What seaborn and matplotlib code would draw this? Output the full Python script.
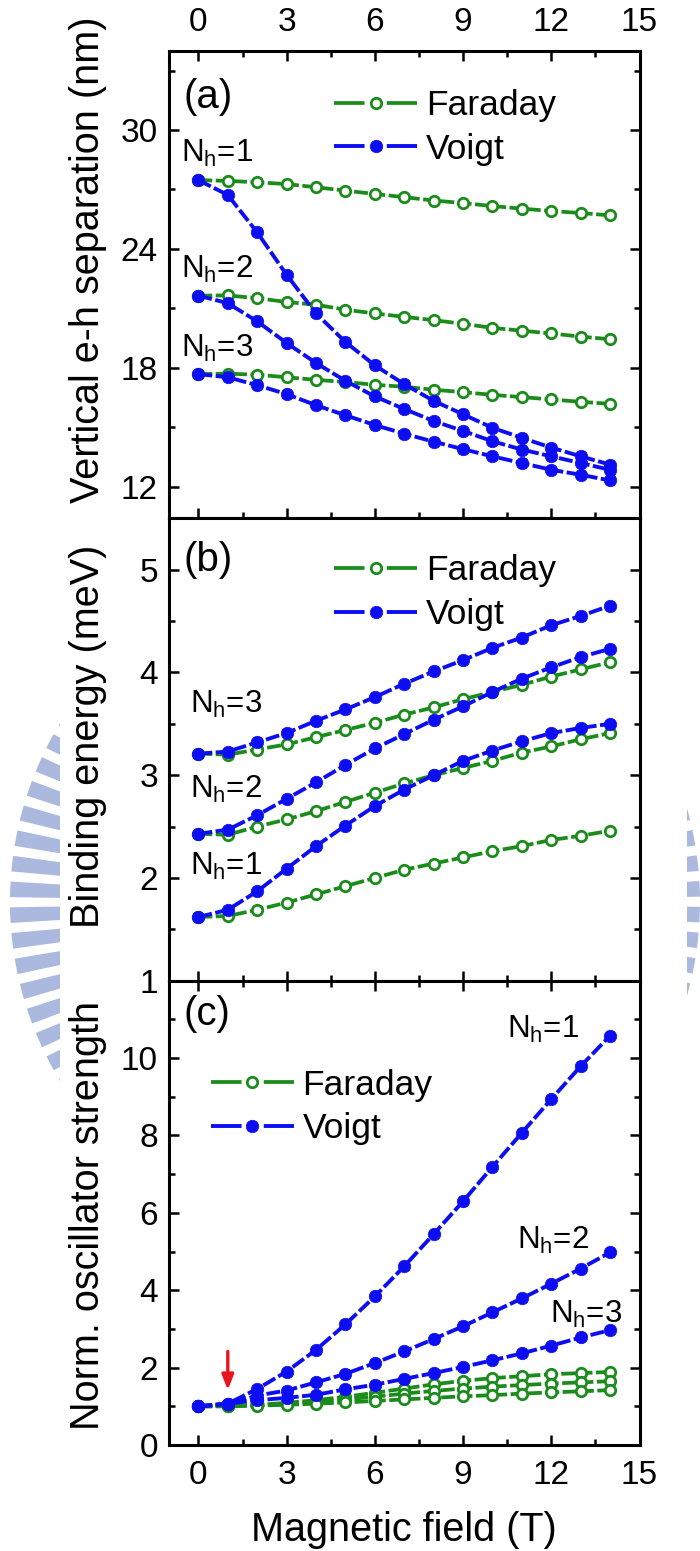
import numpy as np
import matplotlib
matplotlib.use("Agg")
import matplotlib.pyplot as plt
import seaborn as sns
from matplotlib import font_manager
from matplotlib.patches import Wedge, Rectangle
from matplotlib.transforms import Affine2D
from matplotlib.ticker import MultipleLocator

# ---------------------------------------------------------------- data
field = list(range(15))  # magnetic field (T)

# (a) vertical electron-hole separation (nm)
sep_faraday_n1 = [27.47, 27.43, 27.36, 27.27, 27.11, 26.94, 26.77, 26.61, 26.44, 26.31, 26.16, 26.03, 25.91, 25.81, 25.69]
sep_faraday_n2 = [21.64, 21.65, 21.51, 21.32, 21.18, 20.93, 20.74, 20.57, 20.40, 20.22, 20.01, 19.87, 19.73, 19.57, 19.44]
sep_faraday_n3 = [17.68, 17.70, 17.65, 17.52, 17.39, 17.28, 17.14, 17.04, 16.89, 16.77, 16.63, 16.52, 16.40, 16.28, 16.18]
sep_voigt_n1 = [27.47, 26.72, 24.83, 22.69, 20.74, 19.30, 18.12, 17.17, 16.33, 15.65, 14.97, 14.46, 13.97, 13.53, 13.11]
sep_voigt_n2 = [21.64, 21.26, 20.34, 19.25, 18.24, 17.34, 16.55, 15.92, 15.31, 14.81, 14.29, 13.87, 13.53, 13.19, 12.85]
sep_voigt_n3 = [17.68, 17.52, 17.12, 16.67, 16.11, 15.60, 15.11, 14.67, 14.27, 13.89, 13.53, 13.19, 12.85, 12.60, 12.31]

# (b) binding energy (meV)
eb_faraday_n1 = [1.62, 1.63, 1.69, 1.76, 1.84, 1.92, 2.00, 2.08, 2.14, 2.20, 2.26, 2.31, 2.37, 2.41, 2.46]
eb_faraday_n2 = [2.43, 2.42, 2.50, 2.57, 2.65, 2.74, 2.83, 2.92, 3.00, 3.07, 3.14, 3.22, 3.28, 3.35, 3.41]
eb_faraday_n3 = [3.21, 3.20, 3.25, 3.30, 3.37, 3.44, 3.51, 3.59, 3.66, 3.74, 3.81, 3.88, 3.96, 4.03, 4.10]
eb_voigt_n1 = [1.62, 1.69, 1.87, 2.09, 2.31, 2.51, 2.70, 2.86, 3.00, 3.14, 3.24, 3.33, 3.41, 3.46, 3.50]
eb_voigt_n2 = [2.43, 2.47, 2.61, 2.77, 2.93, 3.10, 3.26, 3.40, 3.54, 3.67, 3.81, 3.94, 4.05, 4.15, 4.23]
eb_voigt_n3 = [3.21, 3.23, 3.32, 3.41, 3.53, 3.64, 3.76, 3.89, 4.01, 4.12, 4.24, 4.34, 4.46, 4.55, 4.65]

# (c) normalized oscillator strength
osc_faraday_n1 = [1.00, 1.01, 1.04, 1.09, 1.16, 1.25, 1.35, 1.46, 1.57, 1.66, 1.73, 1.78, 1.83, 1.86, 1.89]
osc_faraday_n2 = [1.00, 1.01, 1.03, 1.07, 1.12, 1.18, 1.25, 1.33, 1.40, 1.46, 1.51, 1.55, 1.59, 1.62, 1.65]
osc_faraday_n3 = [1.00, 1.00, 1.02, 1.04, 1.07, 1.10, 1.14, 1.18, 1.22, 1.26, 1.29, 1.33, 1.36, 1.39, 1.42]
osc_voigt_n1 = [1.00, 1.07, 1.45, 1.90, 2.46, 3.12, 3.84, 4.62, 5.45, 6.30, 7.19, 8.07, 8.94, 9.79, 10.58]
osc_voigt_n2 = [1.00, 1.07, 1.28, 1.41, 1.62, 1.84, 2.12, 2.42, 2.74, 3.07, 3.43, 3.79, 4.17, 4.56, 4.98]
osc_voigt_n3 = [1.00, 1.07, 1.16, 1.22, 1.30, 1.44, 1.56, 1.71, 1.86, 2.02, 2.19, 2.37, 2.57, 2.78, 2.97]

x_ticks = [0, 3, 6, 9, 12, 15]
sep_ticks = [12, 18, 24, 30]
eb_ticks = [1, 2, 3, 4, 5]
osc_ticks = [0, 2, 4, 6, 8, 10]
mode_names = ["Faraday", "Voigt"]

# ---------------------------------------------------------------- style
GREEN = "#1b8c1b"
BLUE = "#0d0df2"
sns.set_style("ticks", {"axes.edgecolor": "black", "xtick.color": "black",
                        "ytick.color": "black", "text.color": "black",
                        "axes.labelcolor": "black"})
names = {f.name for f in font_manager.fontManager.ttflist}
main_font = "Liberation Sans" if "Liberation Sans" in names else "DejaVu Sans"
plt.rcParams["font.family"] = [main_font, "DejaVu Sans"]
plt.rcParams["mathtext.default"] = "regular"
plt.rcParams["lines.scale_dashes"] = False
plt.rcParams["axes.linewidth"] = 2.2

TICK_FS = 24
LABEL_FS = 28.5
LEG_FS = 25.5
NH_FS = 22.5
LETTER_FS = 29

fig = plt.figure(figsize=(7, 15.51), dpi=100)
fig.patch.set_facecolor("white")

# faint emblem ring in the page background, showing only in the margins
px = Affine2D().scale(1 / 700, -1 / 1551).translate(0, 1) + fig.transFigure
n_bars = 84
step = 360.0 / n_bars
for k in range(n_bars):
    a0 = k * step + 0.8
    fig.add_artist(Wedge((355, 902), 345, a0, a0 + 2.6, width=72, transform=px,
                         facecolor="#abb9de", edgecolor="none", zorder=-3))
fig.add_artist(Rectangle((60, 0), 627, 1551, transform=px, facecolor="white",
                         edgecolor="none", zorder=-2))

ax_a = fig.add_axes([0.2414, 0.6658, 0.6722, 0.3015])
ax_b = fig.add_axes([0.2414, 0.3677, 0.6722, 0.2981])
ax_c = fig.add_axes([0.2414, 0.0683, 0.6722, 0.2994])

DASH = (0, (10, 2.5))


def draw_series(ax, values, mode, first):
    label = mode_names[mode] if first else "_nolegend_"
    if mode == 0:
        sns.lineplot(x=field, y=values, ax=ax, color=GREEN, linewidth=2.7,
                     linestyle=DASH, marker="o", markersize=7.5,
                     markerfacecolor="white", markeredgecolor=GREEN,
                     markeredgewidth=2.0, estimator=None, errorbar=None,
                     sort=False, label=label)
    else:
        sns.lineplot(x=field, y=values, ax=ax, color=BLUE, linewidth=2.8,
                     linestyle=DASH, marker="o", markersize=9,
                     markerfacecolor=BLUE, markeredgecolor=BLUE,
                     markeredgewidth=0.5, estimator=None, errorbar=None,
                     sort=False, label=label)


panels = [
    (ax_a, [sep_faraday_n1, sep_faraday_n2, sep_faraday_n3],
     [sep_voigt_n1, sep_voigt_n2, sep_voigt_n3]),
    (ax_b, [eb_faraday_n1, eb_faraday_n2, eb_faraday_n3],
     [eb_voigt_n1, eb_voigt_n2, eb_voigt_n3]),
    (ax_c, [osc_faraday_n1, osc_faraday_n2, osc_faraday_n3],
     [osc_voigt_n1, osc_voigt_n2, osc_voigt_n3]),
]
for ax, far, voi in panels:
    for i, vals in enumerate(far):
        draw_series(ax, vals, 0, i == 0)
    for i, vals in enumerate(voi):
        draw_series(ax, vals, 1, i == 0)

# ---------------------------------------------------------------- axes
for ax in (ax_a, ax_b, ax_c):
    ax.set_facecolor("white")
    ax.set_xlim(-1, 15)
    ax.set_xticks(x_ticks)
    ax.xaxis.set_minor_locator(MultipleLocator(1.5))
    ax.tick_params(which="both", direction="in", width=1.8, right=True,
                   top=True, labelsize=TICK_FS, pad=8)
    ax.tick_params(which="major", length=7)
    ax.tick_params(which="minor", length=4.5)
    for s in ax.spines.values():
        s.set_linewidth(2.2)
        s.set_color("black")
    ax.set_xlabel("")

ax_a.set_ylim(10.4, 34)
ax_a.set_yticks(sep_ticks)
ax_a.yaxis.set_minor_locator(MultipleLocator(3))
ax_a.tick_params(axis="x", labeltop=True, labelbottom=False, pad=9)

ax_b.set_ylim(1, 5.5)
ax_b.set_yticks(eb_ticks)
ax_b.yaxis.set_minor_locator(MultipleLocator(0.5))
ax_b.tick_params(axis="x", which="both", top=False, labelbottom=False)

ax_c.set_ylim(0, 12)
ax_c.set_yticks(osc_ticks)
ax_c.yaxis.set_minor_locator(MultipleLocator(1))
ax_c.tick_params(axis="x", pad=11)

ax_a.set_ylabel("Vertical e-h separation (nm)", fontsize=LABEL_FS)
ax_b.set_ylabel("Binding energy (meV)", fontsize=LABEL_FS)
ax_c.set_ylabel("Norm. oscillator strength", fontsize=LABEL_FS)
ax_a.yaxis.set_label_coords(-0.132, 0.552)
ax_b.yaxis.set_label_coords(-0.132, 0.528)
ax_c.yaxis.set_label_coords(-0.132, 0.495)
ax_c.set_xlabel("Magnetic field (T)", fontsize=LABEL_FS)
ax_c.xaxis.set_label_coords(0.5, -0.142)

# panel letters
ax_a.text(0.03, 0.942, "(a)", transform=ax_a.transAxes, fontsize=LETTER_FS, va="top")
ax_b.text(0.03, 0.952, "(b)", transform=ax_b.transAxes, fontsize=LETTER_FS, va="top")
ax_c.text(0.03, 0.970, "(c)", transform=ax_c.transAxes, fontsize=LETTER_FS, va="top")

# legends
for ax, (lx, ly) in ((ax_a, (0.351, 0.836)), (ax_b, (0.351, 0.839)),
                     (ax_c, (0.089, 0.728))):
    handles = [ln for ln in ax.get_lines() if not ln.get_label().startswith("_")]
    leg = ax.legend(handles=handles, labels=mode_names, loc="center left",
                    bbox_to_anchor=(lx, ly), frameon=False, fontsize=LEG_FS,
                    handlelength=2.34, handletextpad=0.25, labelspacing=0.3,
                    borderpad=0, borderaxespad=0, numpoints=1)
    for ln in leg.get_lines():
        ln.set_linestyle((0, (22, 16)))

# hole-level labels
NH = r"N$_{\mathregular{h}}$=%d"
for n, (x, y) in enumerate([(-0.6, 28.39), (-0.6, 22.53), (-0.6, 18.55)], 1):
    ax_a.text(x, y, NH % n, fontsize=NH_FS, ha="left", va="baseline")
for n, (x, y) in enumerate([(-0.3, 2.03), (-0.3, 2.78), (-0.3, 3.61)], 1):
    ax_b.text(x, y, NH % n, fontsize=NH_FS, ha="left", va="baseline")
for n, (x, y) in enumerate([(10.5, 10.53), (10.85, 5.06), (11.95, 3.15)], 1):
    ax_c.text(x, y, NH % n, fontsize=NH_FS, ha="left", va="baseline")

# onset marker at 1 T
ax_c.annotate("", xy=(1, 1.42), xytext=(1, 2.42),
              arrowprops=dict(arrowstyle="-|>,head_length=0.9,head_width=0.35",
                              color="#e8141e", lw=2.4, shrinkA=0, shrinkB=0))

fig.savefig("out.png", dpi=100)
